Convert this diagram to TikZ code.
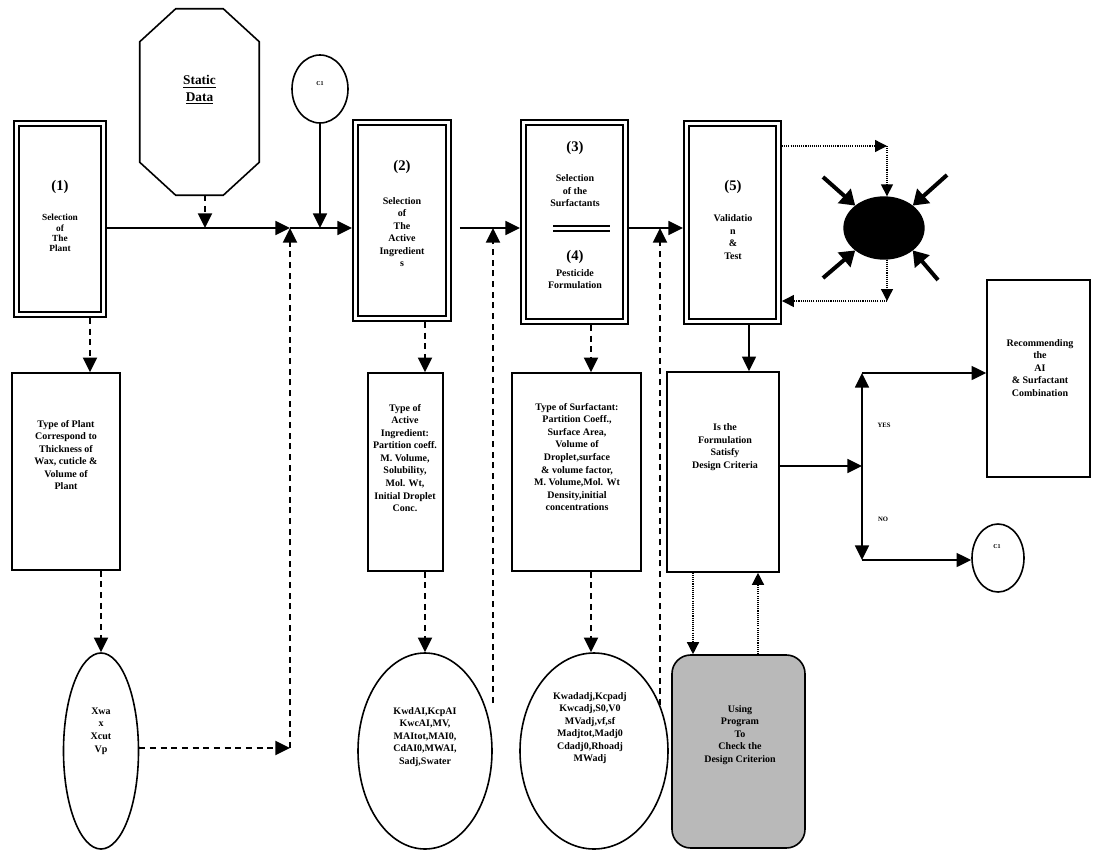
\documentclass[tikz,border=0pt]{standalone}
\usepackage{fontspec}
\setmainfont{Liberation Serif}
\usetikzlibrary{arrows.meta,shapes.geometric,calc}
\begin{document}
\begin{tikzpicture}[x=0.75pt,y=-0.75pt,
  sz/.style 2 args={minimum width=#1*0.75pt,minimum height=#2*0.75pt},
  dbox/.style={draw,double,line width=1.5pt,double distance=2.2pt,inner sep=0pt,outer sep=2.6pt},
  sbox/.style={draw,line width=1.2pt,inner sep=0pt},
  oval/.style={draw,ellipse,line width=1.2pt,inner sep=0pt},
  txt/.style={font=\bfseries\fontsize{7.5}{9.4}\selectfont,align=center,inner sep=0pt},
  big/.style={font=\bfseries\fontsize{11}{13}\selectfont,inner sep=0pt},
  tiny/.style={font=\bfseries\fontsize{4.5}{5}\selectfont,inner sep=0pt},
  arr/.style={line width=1.2pt,-{Triangle[length=11pt,width=10.5pt]}},
  darr/.style={line width=1.7pt,dash pattern=on 4.5pt off 3.5pt,-{Triangle[length=11pt,width=10.5pt]}},
  oarr/.style={line width=1pt,dash pattern=on 0.8pt off 0.8pt,-{Triangle[length=9pt,width=9pt]}},
  farr/.style={line width=3pt,-{Triangle[length=11pt,width=14pt]}},
]
\useasboundingbox (0,0) rectangle (1093,850);

% ---------- top row ----------
\node[dbox,sz={87}{191}] (b1) at (60,219) {};
\node[big] (n1) at (60,187) {(1)};
\node[txt,font=\bfseries\fontsize{7}{7.6}\selectfont] (t1) at (60,233) {Selection\\of\\The\\Plant};

\node[inner sep=0pt,sz={119}{186}] (sd) at (199.5,102) {};
\draw[line width=1.2pt] ($(sd.north west)+(36,0)$) -- ($(sd.north east)+(-36,0)$)
  -- ($(sd.north east)+(0,33)$) -- ($(sd.south east)+(0,-33)$)
  -- ($(sd.south east)+(-36,0)$) -- ($(sd.south west)+(36,0)$)
  -- ($(sd.south west)+(0,-33)$) -- ($(sd.north west)+(0,33)$) -- cycle;
\node[font=\bfseries\fontsize{10}{12.5}\selectfont,align=center,inner sep=0pt] (sdt) at (199.5,90) {\underline{Static}\\\underline{Data}};

\node[oval,sz={56}{68}] (c1a) at (320,89) {};
\node[tiny] (c1at) at (320,84) {C1};

\node[dbox,sz={93}{196}] (b2) at (402,220.5) {};
\node[big] (n2) at (402,167) {(2)};
\node[txt] (t2) at (402,232) {Selection\\of\\The\\Active\\Ingredient\\s};

\node[dbox,sz={102}{199}] (b3) at (574.5,222) {};
\node[big] (n3) at (575,148) {(3)};
\node[txt] (t3) at (575,191) {Selection\\of the\\Surfactants};
\draw[double,line width=1.2pt,double distance=2.4pt] (553,228.5) -- (610,228.5);
\node[big] (n4) at (575,257) {(4)};
\node[txt] (t4) at (575,279) {Pesticide\\Formulation};

\node[dbox,sz={92}{198}] (b5) at (732.5,222.5) {};
\node[big] (n5) at (733,187) {(5)};
\node[txt] (t5) at (733,237) {Validatio\\n\\\&\\Test};

% main line
\coordinate (j1) at (290,228);
\coordinate (j2) at (493,228);
\coordinate (j3) at (660,228);
\coordinate (sdA) at (205,228);
\coordinate (c1t) at (320,228);
\draw[arr] (b1.east |- j1) -- (j1);
\draw[arr] (j1) -- (b2.west |- j1);
\draw[darr] (sd.south -| sdA) -- (sdA);
\draw[arr] (c1a.south) -- (c1t);
\draw[arr] ($(b2.east |- j2)+(8,0)$) -- (b3.west |- j2);
\draw[arr] (b3.east |- j3) -- (b5.west |- j3);

% black ellipse
\node[ellipse,fill=black,draw,line width=1pt,inner sep=0pt,sz={80}{62}] (blk) at (884,228) {};
\coordinate (o1) at (887,146);
\coordinate (o2) at (887,301);
\draw[oarr] (b5.east |- o1) -- (o1);
\draw[oarr] (o1) -- (o1 |- blk.north);
\draw[oarr] (o2 |- blk.south) -- (o2);
\draw[oarr] (o2) -- (b5.east |- o2);
\coordinate (ul) at (823,177);
\coordinate (ur) at (947,175);
\coordinate (ll) at (823,278);
\coordinate (lr) at (938,280);
\draw[farr] (ul) -- (blk.north west);
\draw[farr] (ur) -- (blk.north east);
\draw[farr] (ll) -- (blk.south west);
\draw[farr] (lr) -- (blk.south east);

% ---------- middle row ----------
\node[sbox,sz={108}{197}] (tp) at (66,471.5) {};
\node[txt] (ttp) at (66,455) {Type of Plant\\Correspond to\\Thickness of\\Wax, cuticle \&\\Volume of\\Plant};

\node[sbox,sz={75}{198}] (tai) at (405.5,472) {};
\node[txt] (ttai) at (405,458) {Type of\\Active\\Ingredient:\\Partition coeff.\\M. Volume,\\Solubility,\\Mol. Wt,\\Initial Droplet\\Conc.};

\node[sbox,sz={129}{198}] (tsf) at (576.5,472) {};
\node[txt] (ttsf) at (577,457) {Type of Surfactant:\\Partition Coeff.,\\Surface Area,\\Volume of\\Droplet,surface\\\& volume factor,\\M. Volume,Mol. Wt\\Density,initial\\concentrations};

\node[sbox,sz={112}{200}] (form) at (723,472) {};
\node[txt] (tform) at (725,447) {Is the\\Formulation\\Satisfy\\Design Criteria};

\node[sbox,sz={103}{197}] (rec) at (1038.5,378.5) {};
\node[txt] (trec) at (1040,368) {Recommending\\the\\AI\\\& Surfactant\\Combination};

\node[oval,sz={52}{68}] (c1b) at (998,558) {};
\node[tiny] (c1bt) at (997,547) {C1};

\coordinate (jn) at (862,466);
\coordinate (yt) at (862,373);
\coordinate (nb) at (862,560);
\draw[arr] (form.east |- jn) -- (jn);
\draw[arr] (jn) -- (yt);
\draw[arr] (jn) -- (nb);
\draw[arr] (yt) -- (rec.west |- yt);
\draw[arr] (nb) -- (c1b.west |- nb);
\node[tiny,font=\bfseries\fontsize{5}{6}\selectfont] (yes) at (884,425) {YES};
\node[tiny,font=\bfseries\fontsize{5}{6}\selectfont] (no) at (883,519) {NO};

\draw[arr] (b5.south -| 749,0) -- (form.north -| 749,0);

% ---------- bottom row ----------
\node[oval,sz={75}{196}] (xwa) at (101,751) {};
\node[txt] (txwa) at (101,731) {Xwa\\x\\Xcut\\Vp};

\node[oval,sz={134}{196}] (aiel) at (425,751) {};
\node[txt] (taiel) at (425,737) {KwdAI,KcpAI\\KwcAI,MV,\\MAItot,MAI0,\\CdAI0,MWAI,\\Sadj,Swater};

\node[oval,sz={148}{196}] (sfel) at (594,751) {};
\node[txt] (tsfel) at (590,728) {Kwadadj,Kcpadj\\Kwcadj,S0,V0\\MVadj,vf,sf\\Madjtot,Madj0\\Cdadj0,Rhoadj\\MWadj};

\node[draw,line width=1.2pt,rounded corners=14pt,fill=gray!55,inner sep=0pt,sz={133}{193}] (prog) at (738.5,751.5) {};
\node[txt] (tprog) at (740,735) {Using\\Program\\To\\Check the\\Design Criterion};

% vertical connectors
\draw[darr] (b1.south -| 90,0) -- (tp.north -| 90,0);
\draw[darr] (tp.south -| xwa.north) -- (xwa.north);
\draw[darr] (b2.south -| 425,0) -- (tai.north -| 425,0);
\draw[darr] (tai.south -| aiel.north) -- (aiel.north);
\draw[darr] (b3.south -| 591,0) -- (tsf.north -| 591,0);
\draw[darr] (tsf.south -| 591,0) -- (sfel.north -| 591,0);
\draw[oarr] (form.south -| 693,0) -- (prog.north -| 693,0);
\draw[oarr] (prog.north -| 758,0) -- (form.south -| 758,0);

% return dashed lines
\coordinate (xc) at (290,748);
\draw[darr] (xwa.east |- xc) -- (xc);
\draw[darr] (xc) -- (j1);
\coordinate (d2) at (493,703);
\draw[darr] (d2) -- (j2);
\coordinate (d3) at (660,705);
\draw[darr] (d3) -- (j3);
\end{tikzpicture}
\end{document}
